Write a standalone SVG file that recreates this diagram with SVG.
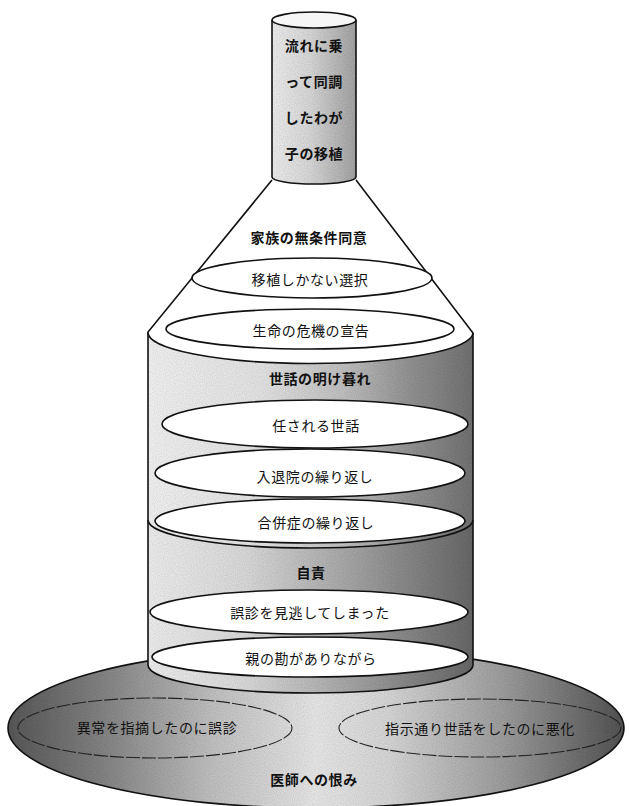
<svg xmlns="http://www.w3.org/2000/svg" width="629" height="806" viewBox="0 0 629 806">
<defs>
<linearGradient id="gGround" x1="8" y1="0" x2="624" y2="0" gradientUnits="userSpaceOnUse">
<stop offset="0" stop-color="#5a5a5a"/>
<stop offset="0.15" stop-color="#858585"/>
<stop offset="0.33" stop-color="#c4c4c4"/>
<stop offset="0.5" stop-color="#ececec"/>
<stop offset="0.62" stop-color="#dadada"/>
<stop offset="0.8" stop-color="#a2a2a2"/>
<stop offset="1" stop-color="#555555"/>
</linearGradient>
<linearGradient id="gCyl" x1="148" y1="0" x2="473" y2="0" gradientUnits="userSpaceOnUse">
<stop offset="0" stop-color="#f6f6f6"/>
<stop offset="0.35" stop-color="#e8e8e8"/>
<stop offset="0.6" stop-color="#c4c4c4"/>
<stop offset="0.8" stop-color="#979797"/>
<stop offset="1" stop-color="#747474"/>
</linearGradient>
<linearGradient id="gCylLow" x1="148" y1="0" x2="473" y2="0" gradientUnits="userSpaceOnUse">
<stop offset="0" stop-color="#f2f2f2"/>
<stop offset="0.3" stop-color="#dedede"/>
<stop offset="0.55" stop-color="#b6b6b6"/>
<stop offset="0.8" stop-color="#8a8a8a"/>
<stop offset="1" stop-color="#6a6a6a"/>
</linearGradient>
<linearGradient id="gTop" x1="272" y1="0" x2="356" y2="0" gradientUnits="userSpaceOnUse">
<stop offset="0" stop-color="#f2f2f2"/>
<stop offset="0.45" stop-color="#dcdcdc"/>
<stop offset="1" stop-color="#a6a6a6"/>
</linearGradient>
<filter id="grain" x="0" y="0" width="100%" height="100%">
<feTurbulence type="fractalNoise" baseFrequency="0.9" numOctaves="1" seed="3" result="n"/>
<feColorMatrix in="n" type="matrix" values="0 0 0 0 0  0 0 0 0 0  0 0 0 0 0  0 0 0 0.35 -0.05" result="d"/>
<feComposite in="d" in2="SourceGraphic" operator="in" result="dd"/>
<feMerge><feMergeNode in="SourceGraphic"/><feMergeNode in="dd"/></feMerge>
</filter>
</defs>
<style>
.edge{stroke:#111;stroke-width:1.6;fill:none}
.oval{fill:#fff;stroke:#111;stroke-width:1.6}
.gov{fill:none;stroke:#222;stroke-width:1.1;stroke-dasharray:14 2}
.lbl{font-family:"Noto Sans CJK JP","Noto Sans",sans-serif;font-size:14px;fill:#111;text-anchor:middle;dominant-baseline:central;letter-spacing:0.6px}
.hd{font-weight:bold}
</style>

<g id="ground">
<ellipse cx="316" cy="728" rx="308" ry="80" fill="url(#gGround)" filter="url(#grain)"/>
<ellipse cx="316" cy="728" rx="308" ry="80" class="edge"/>
</g>
<g id="groundLeft">
<ellipse cx="155" cy="728" rx="137" ry="30" class="gov"/>
<text x="157" y="727" class="lbl">異常を指摘したのに誤診</text>
</g>
<g id="groundRight">
<ellipse cx="480" cy="728" rx="141" ry="29" class="gov"/>
<text x="480" y="728" class="lbl">指示通り世話をしたのに悪化</text>
</g>
<g id="groundTitle">
<text x="314" y="779" class="lbl hd" font-size="15">医師への恨み</text>
</g>

<g id="selfBlame">
<path d="M148,520 L148,665 A162.5,28 0 0 0 473,665 L473,520 Z" fill="url(#gCylLow)" filter="url(#grain)"/>
<path d="M148,520 L148,665 A162.5,28 0 0 0 473,665 L473,520" class="edge"/>
<text x="311" y="572" class="lbl hd">自責</text>
</g>
<g id="missed">
<ellipse cx="309" cy="612" rx="159" ry="22" class="oval"/>
<text x="310" y="612" class="lbl">誤診を見逃してしまった</text>
</g>
<g id="intuition">
<ellipse cx="310" cy="657" rx="158" ry="20" class="oval"/>
<text x="311" y="658" class="lbl">親の勘がありながら</text>
</g>

<g id="careDays">
<path d="M148,332 L148,520 A162.5,28 0 0 0 473,520 L473,333 Z" fill="url(#gCyl)" filter="url(#grain)"/>
<path d="M148,332 L148,520 A162.5,28 0 0 0 473,520 L473,333" class="edge"/>
<text x="320" y="378" class="lbl hd" font-size="15">世話の明け暮れ</text>
</g>
<g id="entrusted">
<ellipse cx="315" cy="424" rx="153" ry="24" class="oval"/>
<text x="316" y="425" class="lbl">任される世話</text>
</g>
<g id="readmission">
<ellipse cx="310" cy="473" rx="155" ry="24" class="oval"/>
<text x="315" y="476" class="lbl">入退院の繰り返し</text>
</g>
<g id="complication">
<ellipse cx="310" cy="521" rx="155" ry="22" class="oval"/>
<text x="316" y="522" class="lbl">合併症の繰り返し</text>
</g>

<g id="familyConsent">
<path d="M272,180 L148,332 A162.5,31 0 0 0 473,333 L356,180 Z" fill="#fff"/>
<path d="M272,180 L148,332 A162.5,31 0 0 0 473,333 L356,180" class="edge"/>
<text x="309" y="237" class="lbl hd">家族の無条件同意</text>
</g>
<g id="onlyChoice">
<ellipse cx="312" cy="278" rx="120" ry="20" class="oval"/>
<text x="310" y="279" class="lbl">移植しかない選択</text>
</g>
<g id="lifeCrisis">
<ellipse cx="310" cy="329" rx="144" ry="20" class="oval"/>
<text x="311" y="330" class="lbl">生命の危機の宣告</text>
</g>

<g id="transplant">
<path d="M272,20 L272,177 A42,7 0 0 0 356,177 L356,20 Z" fill="url(#gTop)" filter="url(#grain)"/>
<path d="M272,20 L272,177 A42,7 0 0 0 356,177 L356,20" class="edge"/>
<ellipse cx="314" cy="20" rx="42" ry="8" fill="#f6f6f6" stroke="#111" stroke-width="1.6"/>
<text x="314" y="45" class="lbl hd" letter-spacing="2">流れに乗</text>
<text x="314" y="81" class="lbl hd" letter-spacing="2">って同調</text>
<text x="314" y="117" class="lbl hd" letter-spacing="2">したわが</text>
<text x="314" y="153" class="lbl hd" letter-spacing="2">子の移植</text>
</g>

<g id="connectors"/>
</svg>
